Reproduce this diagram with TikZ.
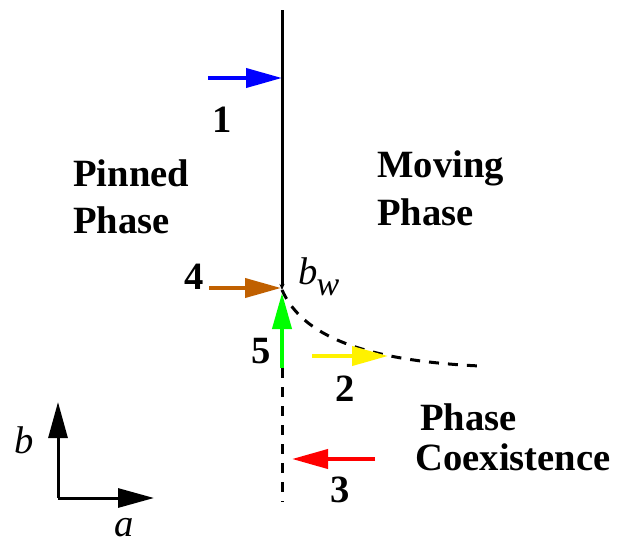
\documentclass[tikz,border=0pt]{standalone}
\usepackage{fontspec}
\setmainfont{Liberation Serif}
\usetikzlibrary{arrows.meta, positioning}

\definecolor{brownpush}{RGB}{192,96,0}

\begin{document}
\begin{tikzpicture}[
  x=0.5pt, y=-0.5pt,
  lbl/.style={font=\fontsize{19.3}{23.5}\selectfont\bfseries, inner sep=0pt, anchor=base west},
  num/.style={font=\fontsize{19.3}{23.5}\selectfont\bfseries, inner sep=0pt},
  var/.style={font=\fontsize{19.3}{23.5}\selectfont\itshape, inner sep=0pt, anchor=base},
  head/.style={-{Triangle[length=18pt,width=9.5pt]}},
  axis/.style={head, line width=1.5pt},
  push/.style={head, line width=2pt},
  bound/.style={line width=1.5pt},
  coex/.style={line width=1.5pt, dash pattern=on 5pt off 4.5pt}
]
  \useasboundingbox (0,0) rectangle (623,542);

  % phase boundary and the b_w point
  \coordinate (top) at (282,10);
  \coordinate (bw) at (282,290);
  \coordinate (bottom) at (282,502);
  \coordinate (gfoot) at (282,368);
  \coordinate (tail) at (480,366);
  \draw[bound, -{Stealth[length=3pt,width=2.5pt]}] (top) -- (bw);
  \draw[coex] (gfoot) -- (bottom);
  \draw[coex] (bw) .. controls (300,330) and (350,360) .. (tail);
  \node[var, anchor=base west] (bwl) at (298,284) {b\kern-0.5pt\raisebox{-0.3em}{\fontsize{17}{17}\selectfont w}};

  % regions
  \node[lbl] (pinned) at (73,186) {Pinned};
  \node[lbl] (pinned2) at (73,233) {Phase};
  \node[lbl] (moving) at (377,177) {Moving};
  \node[lbl] (moving2) at (377,225) {Phase};
  \node[lbl] (coex) at (420,430) {Phase};
  \node[lbl] (coex2) at (415,470) {Coexistence};

  % field pushes
  \coordinate (p1a) at (208,78);  \coordinate (p1b) at (282,78);
  \coordinate (p2a) at (312,356); \coordinate (p2b) at (388,356);
  \coordinate (p3a) at (375,459); \coordinate (p3b) at (292,459);
  \coordinate (p4a) at (209,288); \coordinate (p4b) at (281,288);
  \draw[push, blue] (p1a) -- (p1b);
  \draw[push, yellow] (p2a) -- (p2b);
  \draw[push, red] (p3a) -- (p3b);
  \draw[push, brownpush] (p4a) -- (p4b);
  \draw[push, green] (gfoot) -- (282,293);
  \node[num] (n1) at (222,120) {1};
  \node[num] (n2) at (345,389) {2};
  \node[num] (n3) at (340,490) {3};
  \node[num] (n4) at (194,277) {4};
  \node[num] (n5) at (261,351) {5};

  % axes
  \coordinate (origin) at (58,498);
  \coordinate (atip) at (154,498);
  \coordinate (btip) at (58,402);
  \draw[axis] (origin) -- (atip);
  \draw[axis] (origin) -- (btip);
  \node[var] (bl) at (24,453) {b};
  \node[var] (al) at (124,536) {a};
\end{tikzpicture}
\end{document}
